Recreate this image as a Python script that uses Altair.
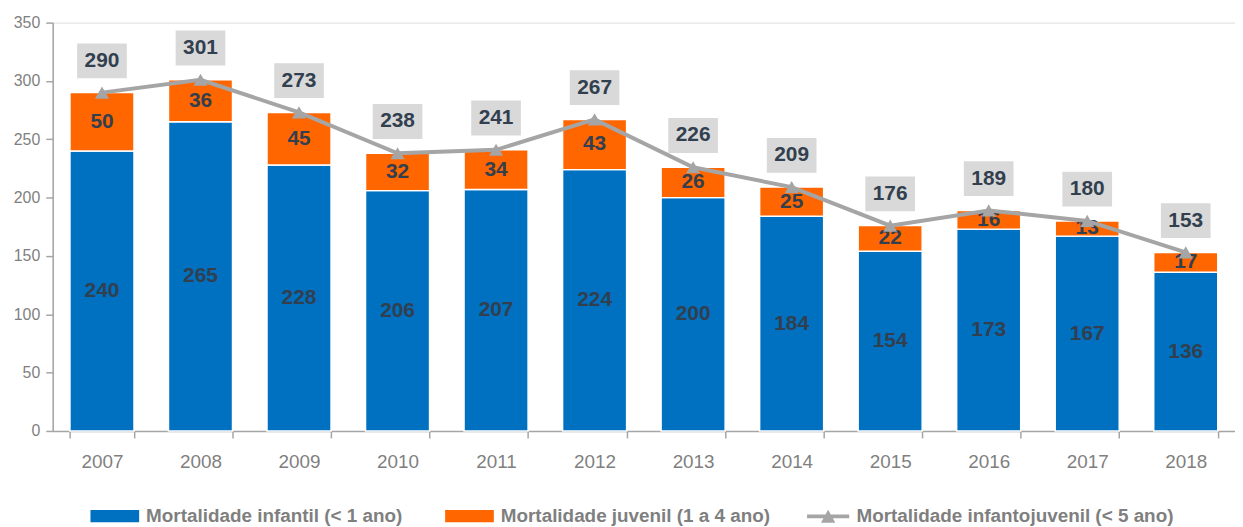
import altair as alt
import pandas as pd

years = ["2007", "2008", "2009", "2010", "2011", "2012", "2013", "2014", "2015", "2016", "2017", "2018"]
infantil = [240, 265, 228, 206, 207, 224, 200, 184, 154, 173, 167, 136]
juvenil = [50, 36, 45, 32, 34, 43, 26, 25, 22, 16, 13, 17]
total = [290, 301, 273, 238, 241, 267, 226, 209, 176, 189, 180, 153]

S1 = "Mortalidade infantil (< 1 ano)"
S2 = "Mortalidade juvenil (1 a 4 ano)"
S3 = "Mortalidade infantojuvenil (< 5 ano)"

BLUE = "#0070C0"
ORANGE = "#FF6600"
GRAY = "#A5A5A5"
BOX = "#D9D9D9"
LABEL = "#323F4F"
AXIS_TXT = "#7F7F7F"
FONT = "Liberation Sans"

bars_df = pd.DataFrame({
    "year": years * 2,
    "series": [S1] * len(years) + [S2] * len(years),
    "value": infantil + juvenil,
    "ord": [0] * len(years) + [1] * len(years),
})
tot_df = pd.DataFrame({"year": years, "total": total, "series": [S3] * len(years)})

x = alt.X("year:O", title=None, sort=years,
          scale=alt.Scale(paddingInner=0.35, paddingOuter=0.175),
          axis=alt.Axis(labelAngle=0, tickBand="extent", labelFont=FONT, labelFontSize=19,
                        labelColor=AXIS_TXT, domainColor=GRAY, tickColor=GRAY, tickSize=7,
                        domainWidth=1.5, tickWidth=1.5, labelPadding=15))
yscale = alt.Scale(domain=[0, 350], nice=False)
yaxis = alt.Axis(values=[0, 50, 100, 150, 200, 250, 300, 350], grid=False, labelFont=FONT,
                 labelFontSize=16, labelColor=AXIS_TXT, domainColor=GRAY, tickColor=GRAY,
                 tickSize=7, domainWidth=1.5, tickWidth=1.5, labelPadding=6, title=None)

base = alt.Chart(bars_df).transform_stack(
    stack="value", groupby=["year"], as_=["v0", "v1"], sort=[alt.SortField("ord")]
).transform_calculate(mid="(datum.v0 + datum.v1) / 2")

bars = base.mark_bar(stroke="white", strokeWidth=1.5).encode(
    x=x,
    y=alt.Y("v0:Q", scale=yscale, axis=yaxis),
    y2="v1:Q",
    color=alt.Color("series:N", scale=alt.Scale(domain=[S1, S2], range=[BLUE, ORANGE]),
                    legend=alt.Legend(orient="none", legendX=38, legendY=472, direction="horizontal",
                                      title=None, symbolType="M-1,-0.25H1V0.25H-1Z",
                                      symbolSize=2400, symbolStrokeWidth=0, labelFont=FONT,
                                      labelFontSize=19, labelFontWeight="bold",
                                      labelColor=AXIS_TXT, labelLimit=500, labelOffset=7,
                                      columnPadding=42)),
)

bar_text = base.mark_text(font=FONT, fontSize=21, fontWeight="bold", color=LABEL,
                          baseline="middle").encode(
    x=alt.X("year:O", sort=years), y=alt.Y("mid:Q"), text="value:Q")

line = alt.Chart(tot_df).mark_line(color=GRAY, strokeWidth=4).encode(
    x=alt.X("year:O", sort=years), y=alt.Y("total:Q"))

tri_path = "M-1,-0.09H1V0.09H-1Z M-0.34,0.3L0,-0.32L0.34,0.3Z"
points = alt.Chart(tot_df).mark_point(shape="triangle-up", filled=True, size=200, opacity=1).encode(
    x=alt.X("year:O", sort=years), y=alt.Y("total:Q"),
    fill=alt.Fill("series:N", scale=alt.Scale(domain=[S3], range=[GRAY]),
                  legend=alt.Legend(orient="none", legendX=759, legendY=475.5, title=None,
                                    symbolType=tri_path, symbolSize=1800, symbolStrokeWidth=0,
                                    labelFont=FONT, labelFontSize=19, labelFontWeight="bold",
                                    labelColor=AXIS_TXT, labelLimit=500, labelOffset=7)),
)

boxes = alt.Chart(tot_df).mark_point(shape="M-1,-0.7H1V0.7H-1Z", filled=True, size=2500,
                                     color=BOX, opacity=1, yOffset=-32, strokeWidth=0).encode(
    x=alt.X("year:O", sort=years), y=alt.Y("total:Q"))

box_text = alt.Chart(tot_df).mark_text(font=FONT, fontSize=21, fontWeight="bold", color=LABEL,
                                       baseline="middle", dy=-32).encode(
    x=alt.X("year:O", sort=years), y=alt.Y("total:Q"), text="total:Q")

chart = alt.layer(bars, bar_text, line, points, boxes, box_text).properties(
    width=1190, height=411, padding={"left": 5, "top": 5, "right": 0, "bottom": 5}
).configure_view(stroke=None).configure(background="white")

chart.save("out.html", embed_options={"renderer": "svg", "actions": False})
